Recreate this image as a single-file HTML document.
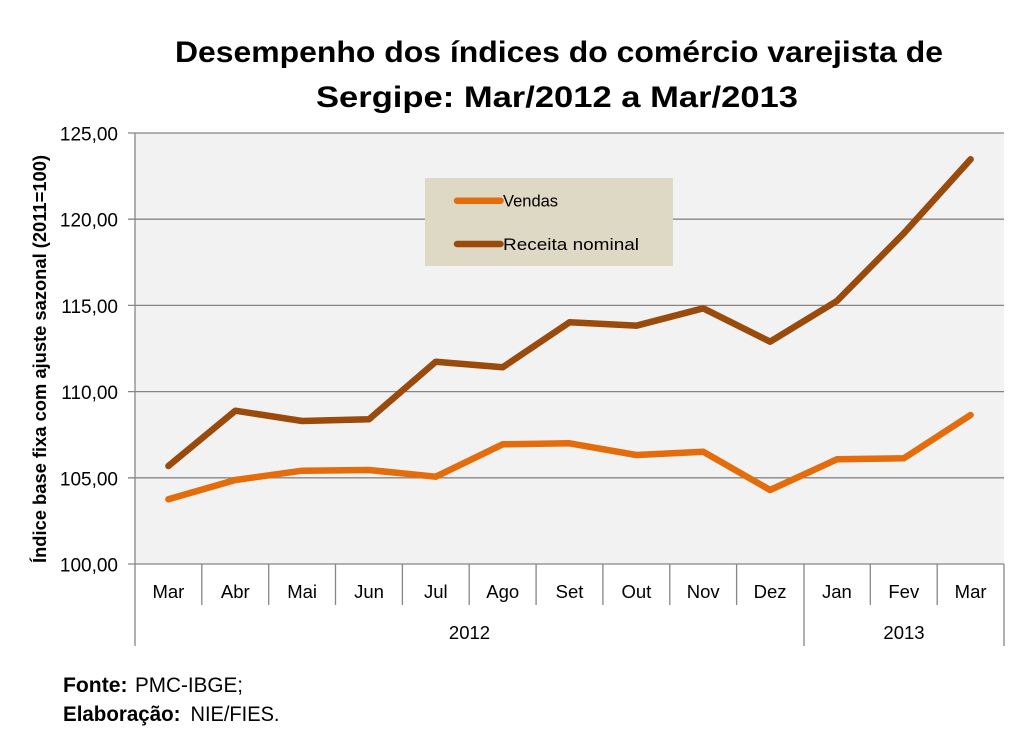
<!DOCTYPE html>
<html>
<head>
<meta charset="utf-8">
<style>
  html, body { margin:0; padding:0; background:#ffffff; }
  svg { display:block; }
  text { font-family: "Liberation Sans", "DejaVu Sans", sans-serif; fill:#000; }
</style>
</head>
<body>
<svg width="1027" height="744" viewBox="0 0 1027 744" xmlns="http://www.w3.org/2000/svg">
  <rect x="0" y="0" width="1027" height="744" fill="#ffffff"/>

  <!-- Title -->
  <text x="175" y="62" font-size="30" font-weight="bold" textLength="768" lengthAdjust="spacingAndGlyphs">Desempenho dos índices do comércio varejista de</text>
  <text x="316" y="107" font-size="30" font-weight="bold" textLength="482" lengthAdjust="spacingAndGlyphs">Sergipe: Mar/2012 a Mar/2013</text>

  <!-- Plot area -->
  <rect x="135" y="133" width="869" height="431" fill="#f2f2f2"/>

  <!-- Gridlines -->
  <g stroke="#868686" stroke-width="1.3">
    <line x1="128" y1="133" x2="1004" y2="133"/>
    <line x1="128" y1="219.2" x2="1004" y2="219.2"/>
    <line x1="128" y1="305.4" x2="1004" y2="305.4"/>
    <line x1="128" y1="391.6" x2="1004" y2="391.6"/>
    <line x1="128" y1="477.8" x2="1004" y2="477.8"/>
    <line x1="128" y1="564" x2="1004" y2="564"/>
    <!-- y axis -->
    <line x1="135" y1="133" x2="135" y2="646"/>
    <!-- category separators -->
    <line x1="201.8" y1="564" x2="201.8" y2="605"/>
    <line x1="268.7" y1="564" x2="268.7" y2="605"/>
    <line x1="335.5" y1="564" x2="335.5" y2="605"/>
    <line x1="402.4" y1="564" x2="402.4" y2="605"/>
    <line x1="469.2" y1="564" x2="469.2" y2="605"/>
    <line x1="536.1" y1="564" x2="536.1" y2="605"/>
    <line x1="602.9" y1="564" x2="602.9" y2="605"/>
    <line x1="669.8" y1="564" x2="669.8" y2="605"/>
    <line x1="736.6" y1="564" x2="736.6" y2="605"/>
    <line x1="804" y1="564" x2="804" y2="646"/>
    <line x1="870.3" y1="564" x2="870.3" y2="605"/>
    <line x1="937.2" y1="564" x2="937.2" y2="605"/>
    <line x1="1004" y1="564" x2="1004" y2="646"/>
  </g>

  <!-- Y tick labels -->
  <g font-size="19" text-anchor="end">
    <text x="118" y="140.5">125,00</text>
    <text x="118" y="226.7">120,00</text>
    <text x="118" y="312.9">115,00</text>
    <text x="118" y="399.1">110,00</text>
    <text x="118" y="485.3">105,00</text>
    <text x="118" y="571.5">100,00</text>
  </g>

  <!-- Y axis title -->
  <text transform="translate(46,563) rotate(-90)" x="0" y="0" font-size="18" font-weight="bold" textLength="408" lengthAdjust="spacingAndGlyphs">Índice base fixa com ajuste sazonal  (2011=100)</text>

  <!-- X labels -->
  <g font-size="18.5" text-anchor="middle">
    <text x="168.4" y="598">Mar</text>
    <text x="235.3" y="598">Abr</text>
    <text x="302.1" y="598">Mai</text>
    <text x="369.0" y="598">Jun</text>
    <text x="435.8" y="598">Jul</text>
    <text x="502.7" y="598">Ago</text>
    <text x="569.5" y="598">Set</text>
    <text x="636.4" y="598">Out</text>
    <text x="703.2" y="598">Nov</text>
    <text x="770.1" y="598">Dez</text>
    <text x="836.9" y="598">Jan</text>
    <text x="903.8" y="598">Fev</text>
    <text x="970.6" y="598">Mar</text>
    <text x="469.5" y="639">2012</text>
    <text x="904" y="639">2013</text>
  </g>

  <!-- Series -->
  <polyline fill="none" stroke="#E46C0A" stroke-width="6.5" stroke-linecap="round" stroke-linejoin="round"
    points="168.4,499.3 235.3,480 302.1,470.7 369.0,470 435.8,476.7 502.7,444.3 569.5,443.3 636.4,455 703.2,451.7 770.1,490 836.9,459.3 903.8,458.3 970.6,415"/>
  <polyline fill="none" stroke="#9A4A0B" stroke-width="6.5" stroke-linecap="round" stroke-linejoin="round"
    points="168.4,466 235.3,410.7 302.1,421 369.0,419.3 435.8,361.7 502.7,367.3 569.5,322.3 636.4,325.7 703.2,308.3 770.1,341.7 836.9,301 903.8,233.3 970.6,159.3"/>

  <!-- Legend -->
  <rect x="425" y="178" width="248" height="88" fill="#DDD9C4"/>
  <line x1="457" y1="200.7" x2="500.5" y2="200.7" stroke="#E46C0A" stroke-width="6.5" stroke-linecap="round"/>
  <line x1="457" y1="244" x2="500.5" y2="244" stroke="#9A4A0B" stroke-width="6.5" stroke-linecap="round"/>
  <text x="503" y="206.5" font-size="16.5">Vendas</text>
  <text x="503" y="250" font-size="16.5" textLength="136" lengthAdjust="spacingAndGlyphs">Receita nominal</text>

  <!-- Footer -->
  <text x="63" y="692" font-size="21" font-weight="bold" textLength="64.5" lengthAdjust="spacingAndGlyphs">Fonte:</text>
  <text x="135" y="692" font-size="21" textLength="108" lengthAdjust="spacingAndGlyphs">PMC-IBGE;</text>
  <text x="63" y="721" font-size="21" font-weight="bold" textLength="117.5" lengthAdjust="spacingAndGlyphs">Elaboração:</text>
  <text x="190.5" y="721" font-size="21" textLength="89" lengthAdjust="spacingAndGlyphs">NIE/FIES.</text>
</svg>
</body>
</html>
